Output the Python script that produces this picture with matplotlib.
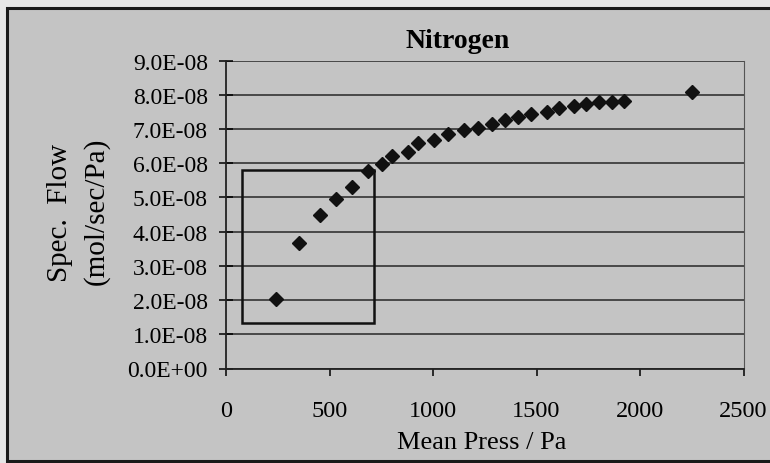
import matplotlib.pyplot as plt
from matplotlib.patches import Rectangle

# mean pressure (Pa) and specific flow (mol/sec/Pa) for nitrogen
mean_press = [240, 354, 454, 530, 610, 685, 755, 803, 877, 929, 1006, 1074,
              1148, 1216, 1283, 1350, 1412, 1473, 1549, 1609, 1683, 1739,
              1804, 1863, 1923, 2253]
spec_flow = [2.03, 3.67, 4.49, 4.96, 5.32, 5.78, 5.97, 6.22, 6.34, 6.59, 6.69,
             6.86, 6.98, 7.03, 7.16, 7.27, 7.34, 7.45, 7.51, 7.61, 7.68, 7.74,
             7.78, 7.78, 7.82, 8.08]
spec_flow = [v * 1e-8 for v in spec_flow]

# highlighted low-pressure region
box_x = [76, 716]
box_y = [1.33e-8, 5.81e-8]

xticks = [0, 500, 1000, 1500, 2000, 2500]
yticks = [i * 1e-8 for i in range(10)]
ytick_labels = ['0.0E+00'] + ['%d.0E-08' % i for i in range(1, 10)]

bg = '#c4c4c4'
plt.rcParams['font.family'] = ['Liberation Serif', 'DejaVu Serif']

fig = plt.figure(figsize=(7.7, 4.64), dpi=100, facecolor='#e6e6e6')
# grey chart panel with dark frame
panel = Rectangle((7 / 770, 1 - 462 / 464), 1.0, (462 - 9) / 464,
                  transform=fig.transFigure, facecolor=bg,
                  edgecolor='#1a1a1a', linewidth=2.2, zorder=-5)
fig.patches.append(panel)

ax = fig.add_axes([226 / 770, 1 - 369.5 / 464, 517.5 / 770, 307.8 / 464])
ax.set_zorder(2)
ax.set_facecolor(bg)
ax.plot(mean_press, spec_flow, linestyle='none', marker='D', markersize=7.5,
        color='#111111', zorder=3)

ax.add_patch(Rectangle((box_x[0], box_y[0]), box_x[1] - box_x[0],
                       box_y[1] - box_y[0], fill=False, edgecolor='#111111',
                       linewidth=1.8, zorder=4))

ax.set_xlim(0, 2500)
ax.set_ylim(0, 9e-8)
ax.set_xticks(xticks)
ax.set_xticklabels([str(t) for t in xticks], fontsize=17.5)
ax.set_yticks(yticks)
ax.set_yticklabels(ytick_labels, fontsize=17)
ax.tick_params(axis='y', direction='inout', length=10, width=1.1, pad=8)
ax.tick_params(axis='x', direction='out', length=5, width=1.1, pad=18)
ax.grid(axis='y', color='#333333', linewidth=1.2)
ax.set_axisbelow(True)

ax.spines['top'].set_visible(False)
ax.spines['right'].set_color('#555555')
ax.spines['right'].set_linewidth(0.8)
for side in ['left', 'bottom']:
    ax.spines[side].set_color('#222222')
    ax.spines[side].set_linewidth(1.3)

fig.text(458 / 770, 1 - 42 / 464, 'Nitrogen', fontsize=20, fontweight='bold',
         ha='center', va='center')
fig.text(482 / 770, 1 - 443 / 464, 'Mean Press / Pa', fontsize=19,
         ha='center', va='center')
fig.text(60 / 770, 1 - 213 / 464, 'Spec.  Flow', fontsize=21, rotation=90,
         ha='center', va='center')
fig.text(96 / 770, 1 - 211 / 464, '(mol/sec/Pa)', fontsize=21, rotation=90,
         ha='center', va='center')

fig.savefig('out.png', dpi=100, facecolor=fig.get_facecolor())
